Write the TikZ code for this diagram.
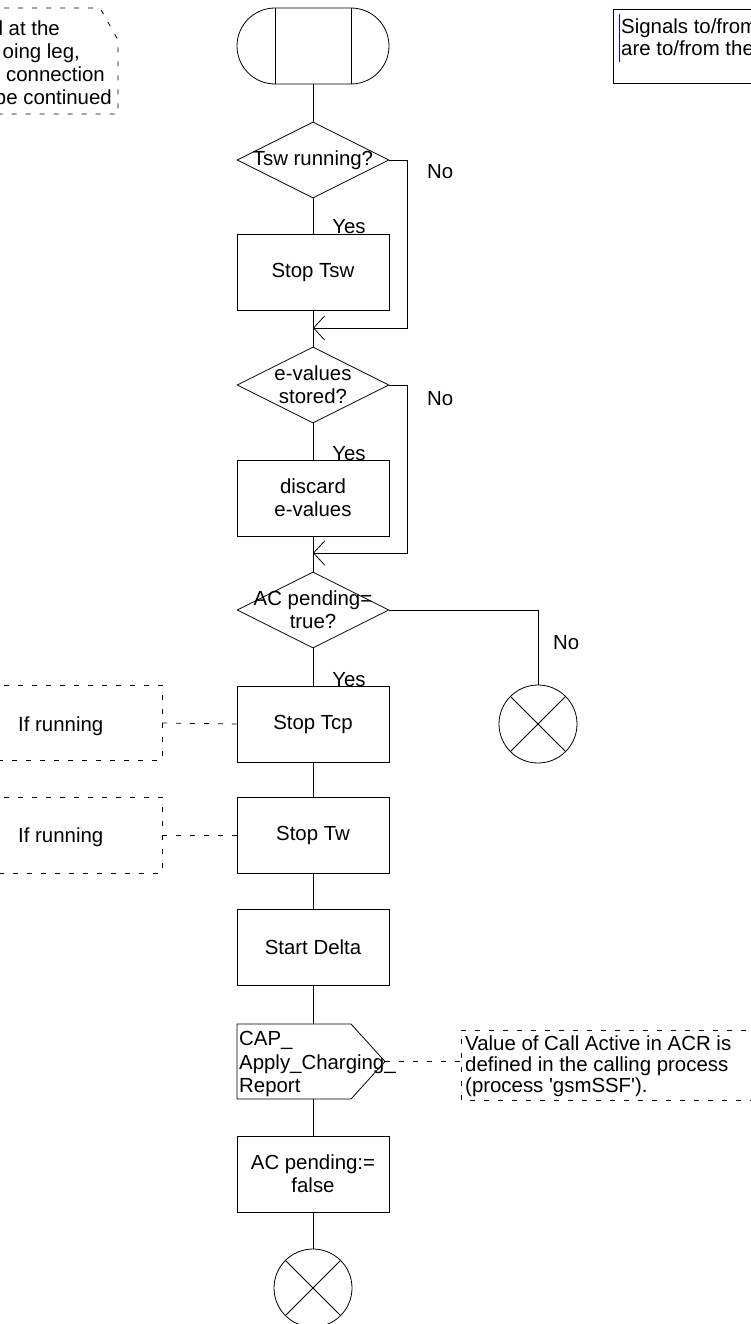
\documentclass[tikz,border=0pt]{standalone}
\usepackage{fontspec}
\setmainfont{Liberation Sans}
\usetikzlibrary{shapes.geometric,arrows.meta}
\begin{document}
\begin{tikzpicture}[x=1pt,y=-1pt,
  every node/.style={font=\fontsize{20.4}{23}\selectfont},
  line/.style={line width=0.8pt},
  box/.style={draw,line width=0.8pt,minimum width=152pt,minimum height=76pt,inner sep=0pt,align=center},
  dec/.style={draw,line width=0.8pt,diamond,aspect=2,minimum width=152pt,minimum height=76pt,inner sep=0pt},
  term/.style={draw,line width=0.8pt,rounded corners=38pt,minimum width=152pt,minimum height=76pt,inner sep=0pt},
  stopc/.style={draw,line width=0.8pt,circle,minimum size=78pt,inner sep=0pt},
  cmt/.style={draw,line width=0.8pt,dash pattern=on 5pt off 9pt},
  lbl/.style={anchor=base,inner sep=0pt},
  lblw/.style={anchor=base west,inner sep=0pt},
  lble/.style={anchor=base east,inner sep=0pt},
  merge/.style={line width=0.8pt,-{Straight Barb[length=11pt,width=24pt,line width=0.8pt]}},
]
\useasboundingbox (0,0) rectangle (751,1324);

% start terminal
\node[term] (start) at (313,46) {};
\draw[line] ([xshift=-38pt]start.north) -- ([xshift=-38pt]start.south);
\draw[line] ([xshift=38pt]start.north) -- ([xshift=38pt]start.south);

% decision 1
\node[dec,label={center:Tsw running?}] (d1) at (313,160) {};
\node[box] (tsw) at (313,272) {Stop Tsw};
\node[lbl] (y1) at (349,234) {Yes};
\node[lblw] (n1) at (427,179) {No};
\coordinate (m1) at (313,328);

% decision 2
\node[dec,label={[align=center]center:e-values\\stored?}] (d2) at (313,385) {};
\node[box] (disc) at (313,498) {discard\\e-values};
\node[lbl] (y2) at (349,460) {Yes};
\node[lblw] (n2) at (427,405) {No};
\coordinate (m2) at (313,553);

% decision 3
\node[dec,label={[align=center]center:AC pending=\\true?}] (d3) at (313,610) {};
\node[stopc] (e1) at (538,724) {};
\draw[line] (e1.north west) -- (e1.south east) (e1.north east) -- (e1.south west);
\node[lblw] (n3) at (553,649) {No};
\node[lbl] (y3) at (349,686) {Yes};

\node[box] (tcp) at (313,724) {Stop Tcp};
\node[box] (tw) at (313,835) {Stop Tw};
\node[box] (delta) at (313,947) {Start Delta};

% signal output
\draw[line] (237,1024) -- (351,1024) -- (385,1061.5) -- (351,1099) -- (237,1099) -- cycle;
\coordinate (sigtop) at (313,1024);
\coordinate (sigbot) at (313,1099);
\coordinate (sigtip) at (385,1061.5);
\node[anchor=west,align=left,inner sep=0pt,font=\fontsize{20.4}{23.5}\selectfont] (sig) at (239,1064) {CAP\_\\Apply\_Charging\_\\Report};

\node[box] (acf) at (313,1174) {AC pending:=\\false};
\node[stopc] (e2) at (313,1288) {};
\draw[line] (e2.north west) -- (e2.south east) (e2.north east) -- (e2.south west);

% main flow lines
\draw[line] (start.south) -- (d1.north);
\draw[line] (d1.south) -- (tsw.north);
\draw[line] (tsw.south) -- (d2.north);
\draw[line] (d2.south) -- (disc.north);
\draw[line] (disc.south) -- (d3.north);
\draw[line] (d3.south) -- (tcp.north);
\draw[line] (tcp.south) -- (tw.north);
\draw[line] (tw.south) -- (delta.north);
\draw[line] (delta.south) -- (sigtop);
\draw[line] (sigbot) -- (acf.north);
\draw[line] (acf.south) -- (e2.north);

% No branches
\draw[merge] (d1.east) -- (407,160) |- (m1);
\draw[merge] (d2.east) -- (407,385) |- (m2);
\draw[line] (d3.east) -| (e1.north);

% left comments
\draw[cmt] (-10,685) -- (162,685) -- (162,760) -- (-10,760);
\coordinate (c1) at (162,723);
\node[lblw] (t1) at (18,731) {If running};
\draw[cmt] (c1) -- (tcp.west);

\draw[cmt] (-10,797) -- (162,797) -- (162,873) -- (-10,873);
\coordinate (c2) at (162,835);
\node[lblw] (t2) at (18,842) {If running};
\draw[cmt] (c2) -- (tw.west);

% right comment on signal
\draw[cmt] (760,1030) -- (461,1030) -- (461,1100) -- (760,1100);
\coordinate (c3) at (461,1061.5);
\node[anchor=west,align=left,inner sep=0pt,font=\fontsize{20.4}{21}\selectfont] (t3) at (465,1066) {Value of Call Active in ACR is\\defined in the calling process\\(process \textquotesingle gsmSSF\textquotesingle).};
\draw[cmt] (sigtip) -- (c3);

% top-left comment
\draw[cmt] (-10,8) -- (100,8) -- (118,40) -- (118,114) -- (-10,114);
\node[lble] (tl1) at (60,36) {l at the};
\node[lble] (tl2) at (80,59) {oing leg,};
\node[lble] (tl3) at (105,82) {connection};
\node[lble] (tl4) at (112,105) {be continued};

% top-right note
\draw[line] (760,9) -- (613,9) -- (613,83) -- (760,83);
\draw[blue,line width=1pt] (619,14) -- (619,62);
\node[lblw] (tr1) at (621,34) {Signals to/from};
\node[lblw] (tr2) at (621,56) {are to/from the};
\end{tikzpicture}
\end{document}
